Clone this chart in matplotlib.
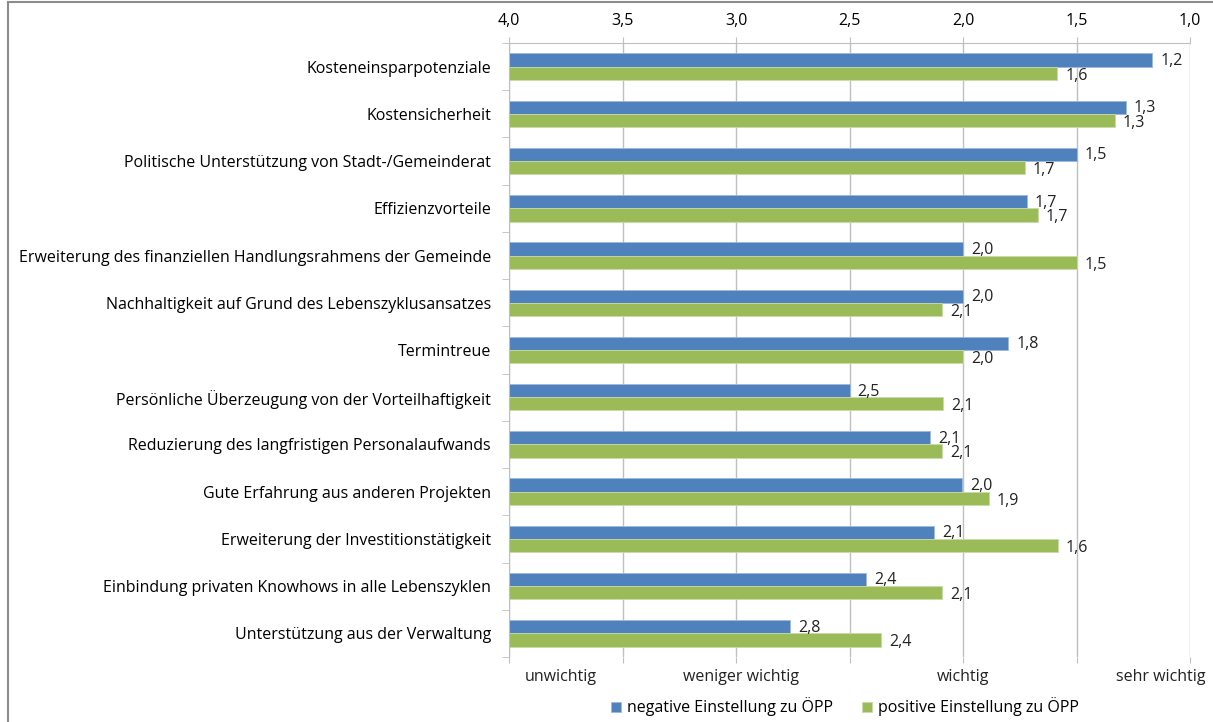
import matplotlib
matplotlib.use("Agg")
import matplotlib.pyplot as plt
import numpy as np
from matplotlib.lines import Line2D

categories = [
    "Kosteneinsparpotenziale",
    "Kostensicherheit",
    "Politische Unterstützung von Stadt-/Gemeinderat",
    "Effizienzvorteile",
    "Erweiterung des finanziellen Handlungsrahmens der Gemeinde",
    "Nachhaltigkeit auf Grund des Lebenszyklusansatzes",
    "Termintreue",
    "Persönliche Überzeugung von der Vorteilhaftigkeit",
    "Reduzierung des langfristigen Personalaufwands",
    "Gute Erfahrung aus anderen Projekten",
    "Erweiterung der Investitionstätigkeit",
    "Einbindung privaten Knowhows in alle Lebenszyklen",
    "Unterstützung aus der Verwaltung",
]
negative = [1.166, 1.283, 1.50, 1.718, 2.0, 2.0, 1.801, 2.50, 2.145, 2.003, 2.127, 2.427, 2.76]
positive = [1.584, 1.332, 1.728, 1.670, 1.50, 2.093, 2.0, 2.086, 2.093, 1.886, 1.583, 2.092, 2.361]
series_names = ["negative Einstellung zu ÖPP", "positive Einstellung zu ÖPP"]
xticks = [4.0, 3.5, 3.0, 2.5, 2.0, 1.5, 1.0]
scale_labels = ["unwichtig", "weniger wichtig", "wichtig", "sehr wichtig"]
scale_pos = [3.77, 2.98, 2.0, 1.13]

blue = "#4F81BD"
green = "#9BBB59"
grid = "#BFBFBF"
fs = 11.5

plt.rcParams["font.family"] = ["Open Sans", "DejaVu Sans"]

fig = plt.figure(figsize=(12.13, 7.22), dpi=100)
ax = fig.add_axes([509 / 1213, 1 - 657 / 722, 681 / 1213, 614 / 722])

n = len(categories)
y = np.arange(n)
h = 0.28
base = 4.0
ax.barh(y - h / 2, [base - v for v in negative], left=negative, height=h,
        color=blue, edgecolor="#9DB9DC", linewidth=0.6, label=series_names[0])
ax.barh(y + h / 2, [base - v for v in positive], left=positive, height=h,
        color=green, edgecolor="#C9DBA6", linewidth=0.6, label=series_names[1])

# value labels just right of each bar end
for i in range(n):
    ax.text(negative[i] - 0.035, y[i] - h / 2 + 0.02, f"{negative[i]:.1f}".replace(".", ","),
            va="center", ha="left", fontsize=fs, color="#222222")
    ax.text(positive[i] - 0.035, y[i] + h / 2 + 0.05, f"{positive[i]:.1f}".replace(".", ","),
            va="center", ha="left", fontsize=fs, color="#222222")

ax.set_xlim(4.0, 1.0)
ax.set_ylim(n - 0.5, -0.5)
ax.xaxis.tick_top()
ax.set_xticks(xticks)
ax.set_xticklabels([f"{t:.1f}".replace(".", ",") for t in xticks], fontsize=fs)
ax.tick_params(axis="x", which="both", top=True, bottom=True, length=4, color=grid,
               pad=6)
ax.grid(axis="x", color=grid, linewidth=1.0)
ax.set_axisbelow(True)

ax.set_yticks(y)
ax.set_yticklabels(categories, fontsize=fs)
ax.set_yticks(np.arange(n + 1) - 0.5, minor=True)
ax.tick_params(axis="y", which="major", length=0, pad=13)
ax.tick_params(axis="y", which="minor", length=5, color=grid)

for side in ["right", "bottom"]:
    ax.spines[side].set_visible(False)
ax.spines["top"].set_color(grid)
ax.spines["left"].set_color(grid)

# importance scale under the bars
for lbl, pos in zip(scale_labels, scale_pos):
    ax.text(pos, -0.033, lbl, transform=ax.get_xaxis_transform(), ha="center",
            va="center", fontsize=fs, color="#222222")

fig.legend(loc="center", bbox_to_anchor=(845 / 1213, 1 - 707 / 722), ncol=2,
           frameon=False, fontsize=fs, handlelength=0.6, handleheight=0.6,
           handletextpad=0.4, columnspacing=1.8)

# outer chart frame (left and top edges)
fig.add_artist(Line2D([8 / 1213, 8 / 1213], [0, 1 - 2 / 722], transform=fig.transFigure,
                      color="#8C8C8C", linewidth=1.5))
fig.add_artist(Line2D([8 / 1213, 1], [1 - 2 / 722, 1 - 2 / 722], transform=fig.transFigure,
                      color="#8C8C8C", linewidth=1.5))

fig.savefig("out.png", dpi=100, facecolor="white")
